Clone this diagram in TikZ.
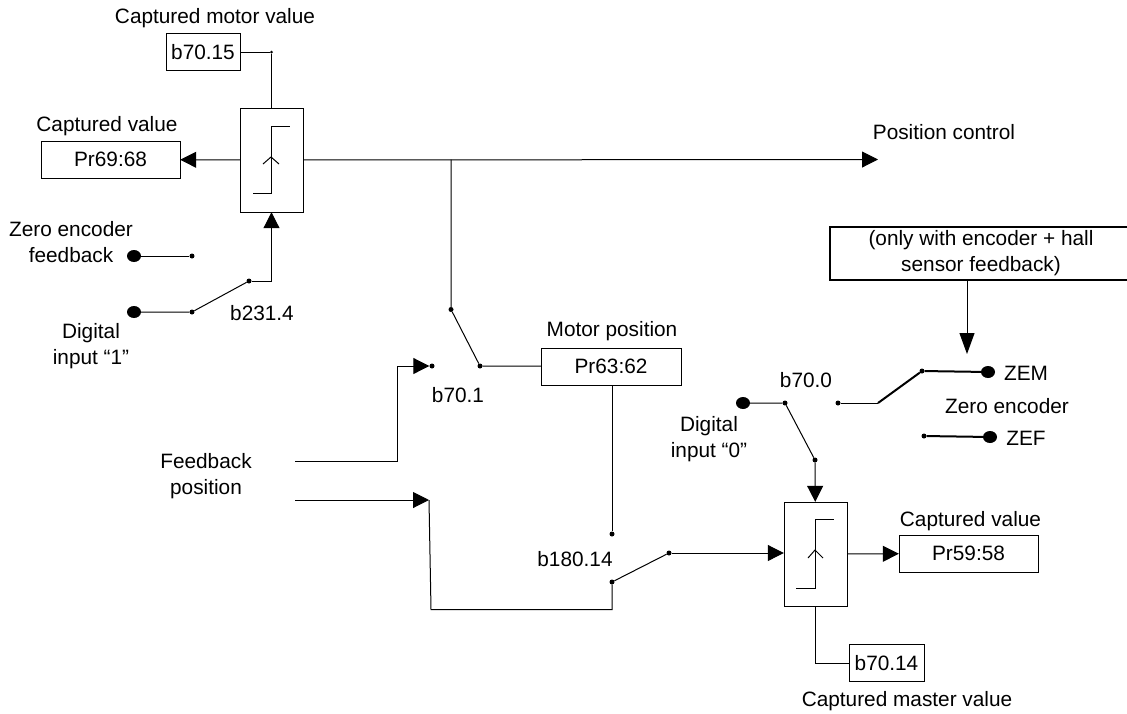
\documentclass[tikz,border=0pt]{standalone}
\usepackage{fontspec}
\setmainfont{Liberation Sans}
\usetikzlibrary{arrows.meta, positioning, shapes.geometric}

\begin{document}
\begin{tikzpicture}[
      x=1pt, y=-1pt,
      box/.style={draw, minimum height=37pt, inner sep=0pt, font=\fontsize{20.8}{26}\selectfont},
      lbl/.style={align=center, inner sep=0pt, font=\fontsize{20.8}{26}\selectfont},
      arr/.style={-{Triangle[length=16pt, width=16pt]}, line width=1pt},
      longarr/.style={-{Triangle[length=21pt, width=15pt]}, line width=1pt},
      wire/.style={line width=1pt},
      heavy/.style={line width=2pt},
      pin/.style={circle, fill, inner sep=0pt, minimum size=5pt},
      term/.style={ellipse, fill, inner sep=0pt, minimum width=14pt, minimum height=12pt},
      latch/.style={draw, minimum width=63pt, minimum height=104pt, inner sep=0pt}
    ]
      \useasboundingbox (0,0) rectangle (1127,713);

      % capture block, motor side
      \node[latch] (capm) at (271.5,160) {};
      \draw[wire] (253,193) -- (271,193) -- (271,126) -- (290,126);
      \draw[wire] (263,164) -- (271,157) -- (279,164);
      \node[box, minimum width=74pt] (b7015) at (203,52) {b70.15};
      \node[lbl] (lcapm) at (215,18) {Captured motor value};
      \node[box, minimum width=139pt] (pr69) at (110.5,159.5) {Pr69:68\hspace{13pt}};
      \node[lbl] (lval) at (107,126) {Captured value};
      \node[pin, minimum size=3pt] (corner) at (271.5,52) {};
      \draw[wire] (b7015) -- (corner) -- (capm);
      \draw[arr] (capm) -- (pr69);
      \coordinate (poscontrol) at (878,159.5);
      \node[lbl] (lpos) at (944,132) {Position control};
      \draw[arr] (capm) -- (poscontrol);

      % switch b231.4
      \node[term] (zef1) at (134,256) {};
      \node[pin] (s1a) at (192,256) {};
      \node[term] (di1) at (134,312) {};
      \node[pin] (s1b) at (192,312) {};
      \node[pin] (s1c) at (249,281) {};
      \node[lbl] (lzef1) at (71,242) {Zero encoder\\feedback};
      \node[lbl] (ldi1) at (91,346) {Digital\\input “1”};
      \node[lbl] (l2314) at (262,313) {b231.4};
      \draw[wire] (zef1) -- (s1a);
      \draw[wire] (di1) -- (s1b) -- (s1c);
      \draw[arr] (s1c) -- (271.5,281) -- (capm.south);

      % switch b70.1
      \coordinate (tap) at (451,159.5);
      \node[pin] (s2a) at (451,309.5) {};
      \node[pin] (s2b) at (480,366) {};
      \node[pin] (s2c) at (432,366) {};
      \node[box, minimum width=140pt] (pr63) at (611,366.5) {Pr63:62};
      \node[lbl] (lmot) at (612,331) {Motor position};
      \node[lbl] (l701) at (458,395) {b70.1};
      \draw[wire] (tap) -- (s2a) -- (s2b) -- (pr63);

      % feedback
      \node[lbl] (lfb) at (206,476) {Feedback\\position};
      \coordinate (fb1) at (295,461);
      \coordinate (fb2) at (295,500);
      \coordinate (fb2end) at (429,500);
      \draw[arr] (fb1) -- (397,461) -- (397,366) -- (s2c);
      \draw[arr] (fb2) -- (fb2end);

      % switch b180.14
      \node[pin] (s3a) at (612,534) {};
      \node[pin] (s3b) at (612,582) {};
      \node[pin] (s3c) at (669,553) {};
      \node[lbl] (l18014) at (575,559) {b180.14};
      \draw[wire] (pr63.south -| s3a) -- (s3a);
      \draw[wire] (fb2end) -- (431,609.5) -- (612,609.5) -- (s3b) -- (s3c);

      % capture block, master side
      \node[latch] (caps) at (815.5,554) {};
      \draw[wire] (796,588) -- (815,588) -- (815,519) -- (834,519);
      \draw[wire] (808,558) -- (815,550) -- (823,558);
      \draw[arr] (s3c) -- (s3c -| caps.west);
      \node[box, minimum width=139pt] (pr59) at (968.5,553.5) {Pr59:58};
      \node[lbl] (lval2) at (970.5,521) {Captured value};
      \draw[arr] (caps) -- (pr59);
      \node[box, minimum width=75pt] (b7014) at (886.5,663) {b70.14};
      \node[lbl] (lcaps) at (907,701) {Captured master value};
      \draw[wire] (caps) -- (815.5,663) -- (b7014);

      % switch b70.0
      \node[term] (di0) at (743,403) {};
      \node[pin] (s4a) at (785,403) {};
      \node[pin] (s4b) at (815,460) {};
      \node[lbl] (ldi0) at (709,439.5) {Digital\\input “0”};
      \node[lbl] (l700) at (806,380) {b70.0};
      \draw[wire] (di0) -- (s4a) -- (s4b);
      \draw[arr] (s4b) -- (caps);

      % zero encoder selection
      \node[pin] (s5a) at (838,403) {};
      \coordinate (s5b) at (878,403);
      \node[pin] (s5c) at (922,371) {};
      \node[term] (zem) at (988,372) {};
      \node[pin] (s5d) at (924,436) {};
      \node[term] (zef) at (990,437) {};
      \node[lbl] (lzem) at (1026,373) {ZEM};
      \node[lbl] (lzero) at (1007,406) {Zero encoder};
      \node[lbl] (lzef) at (1026,438) {ZEF};
      \draw[wire] (s5a) -- (s5b);
      \draw[heavy] (s5b) -- (s5c) -- (zem);
      \draw[heavy] (s5d) -- (zef);

      \node[draw, line width=2pt, minimum width=302pt, minimum height=53pt, lbl] (note) at (981,253.5) {(only with encoder + hall\\sensor feedback)};
      \coordinate (noteout) at (967,280);
      \coordinate (notetip) at (967,354);
      \draw[longarr] (noteout) -- (notetip);
    \end{tikzpicture}
\end{document}
